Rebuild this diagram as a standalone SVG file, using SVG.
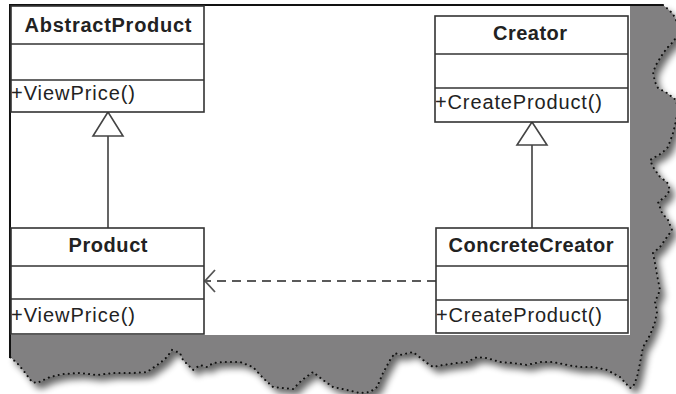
<svg xmlns="http://www.w3.org/2000/svg" width="676" height="394" viewBox="0 0 676 394">
<defs>
<filter id="shadow" x="-5%" y="-5%" width="115%" height="120%">
<feGaussianBlur in="SourceAlpha" stdDeviation="3.5" result="b"/>
<feOffset in="b" dx="5" dy="6" result="o"/>
<feComponentTransfer in="o" result="s"><feFuncA type="linear" slope="0.6"/></feComponentTransfer>
<feMerge><feMergeNode in="s"/><feMergeNode in="SourceGraphic"/></feMerge>
</filter>
</defs>
<style>
.box{fill:#fff;stroke:#333;stroke-width:1.6}
.sep{stroke:#333;stroke-width:1.6}
.title{font-family:"Liberation Sans",Arial,sans-serif;font-weight:bold;font-size:20px;fill:#222;text-anchor:middle}
.op{font-family:"Liberation Sans",Arial,sans-serif;font-size:20px;fill:#222}
.conn{stroke:#555;stroke-width:1.8;fill:none}
.tri{fill:#fff;stroke:#444;stroke-width:1.6}
.dash{stroke:#5a5a5a;stroke-width:1.8;fill:none;stroke-dasharray:9,6}
.edge{fill:none;stroke:#111;stroke-width:2;stroke-dasharray:0.1,5;stroke-linecap:round}
</style>
<rect width="676" height="394" fill="#fff"/>
<g id="paper">
<path filter="url(#shadow)" fill="#818081" d="M10,5 L663,5 L668,9 L673,14 L677,22 L678,35 L672,43 L667,48 L662,55 L657,63 L653,72 L655,82 L658,88 L667,93 L676,100 L678,110 L675,125 L673,133 L668,147 L662,153 L650,160 L653,167 L660,177 L667,182 L670,190 L665,197 L658,202 L662,213 L668,220 L672,230 L667,237 L660,247 L653,253 L655,263 L658,280 L660,290 L655,302 L657,312 L655,322 L650,335 L643,347 L640,363 L637,377 L633,387 L630,388 L620,377 L607,370 L593,367 L580,367 L567,365 L553,362 L540,362 L527,365 L513,363 L500,362 L487,358 L477,357 L467,362 L457,363 L443,365 L433,367 L427,363 L413,352 L400,355 L395,353 L390,360 L383,373 L377,387 L370,392 L360,393 L347,390 L333,387 L323,380 L313,372 L302,380 L293,389 L283,388 L273,387 L263,378 L253,367 L240,362 L223,362 L213,363 L207,367 L200,365 L193,370 L183,360 L180,353 L172,350 L167,357 L160,363 L147,372 L133,373 L113,373 L97,375 L80,373 L63,374 L50,377 L37,383 L32,382 L23,370 L17,363 L10,357 Z"/>
<path class="edge" d="M663,5 L668,9 L673,14 L677,22 L678,35 L672,43 L667,48 L662,55 L657,63 L653,72 L655,82 L658,88 L667,93 L676,100 L678,110 L675,125 L673,133 L668,147 L662,153 L650,160 L653,167 L660,177 L667,182 L670,190 L665,197 L658,202 L662,213 L668,220 L672,230 L667,237 L660,247 L653,253 L655,263 L658,280 L660,290 L655,302 L657,312 L655,322 L650,335 L643,347 L640,363 L637,377 L633,387 L630,388 L620,377 L607,370 L593,367 L580,367 L567,365 L553,362 L540,362 L527,365 L513,363 L500,362 L487,358 L477,357 L467,362 L457,363 L443,365 L433,367 L427,363 L413,352 L400,355 L395,353 L390,360 L383,373 L377,387 L370,392 L360,393 L347,390 L333,387 L323,380 L313,372 L302,380 L293,389 L283,388 L273,387 L263,378 L253,367 L240,362 L223,362 L213,363 L207,367 L200,365 L193,370 L183,360 L180,353 L172,350 L167,357 L160,363 L147,372 L133,373 L113,373 L97,375 L80,373 L63,374 L50,377 L37,383 L32,382 L23,370 L17,363 L10,357"/>
<rect x="11" y="6" width="619" height="329" fill="#fff"/>
<line x1="10" y1="5" x2="663" y2="5" stroke="#111" stroke-width="2"/>
<line x1="10" y1="4" x2="10" y2="358" stroke="#111" stroke-width="2"/>
</g>
<g id="connectors">
<line class="conn" x1="108" y1="228" x2="108" y2="136"/>
<polygon class="tri" points="108,112 93,136 123,136"/>
<line class="conn" x1="532" y1="228" x2="532" y2="145"/>
<polygon class="tri" points="532,122 517,145 547,145"/>
<line class="dash" x1="436" y1="281" x2="206" y2="281"/>
<polyline class="conn" points="215,270 205,281 215,292"/>
</g>
<g id="AbstractProduct">
<rect class="box" x="11" y="6" width="193" height="106"/>
<line class="sep" x1="11" y1="44" x2="204" y2="44"/>
<line class="sep" x1="11" y1="80" x2="204" y2="80"/>
<text class="title" x="108" y="32" textLength="167" lengthAdjust="spacing">AbstractProduct</text>
<text class="op" x="11" y="100" textLength="124" lengthAdjust="spacing">+ViewPrice()</text>
</g>
<g id="Creator">
<rect class="box" x="435" y="16" width="193" height="106"/>
<line class="sep" x1="435" y1="54" x2="628" y2="54"/>
<line class="sep" x1="435" y1="88" x2="628" y2="88"/>
<text class="title" x="530" y="40" textLength="74" lengthAdjust="spacing">Creator</text>
<text class="op" x="435" y="109" textLength="167" lengthAdjust="spacing">+CreateProduct()</text>
</g>
<g id="Product">
<rect class="box" x="11" y="228" width="193" height="106"/>
<line class="sep" x1="11" y1="266" x2="204" y2="266"/>
<line class="sep" x1="11" y1="299" x2="204" y2="299"/>
<text class="title" x="108" y="252" textLength="79" lengthAdjust="spacing">Product</text>
<text class="op" x="11" y="322" textLength="124" lengthAdjust="spacing">+ViewPrice()</text>
</g>
<g id="ConcreteCreator">
<rect class="box" x="436" y="228" width="192" height="105"/>
<line class="sep" x1="436" y1="266" x2="628" y2="266"/>
<line class="sep" x1="436" y1="300" x2="628" y2="300"/>
<text class="title" x="531" y="252" textLength="165" lengthAdjust="spacing">ConcreteCreator</text>
<text class="op" x="436" y="322" textLength="166" lengthAdjust="spacing">+CreateProduct()</text>
</g>
</svg>
